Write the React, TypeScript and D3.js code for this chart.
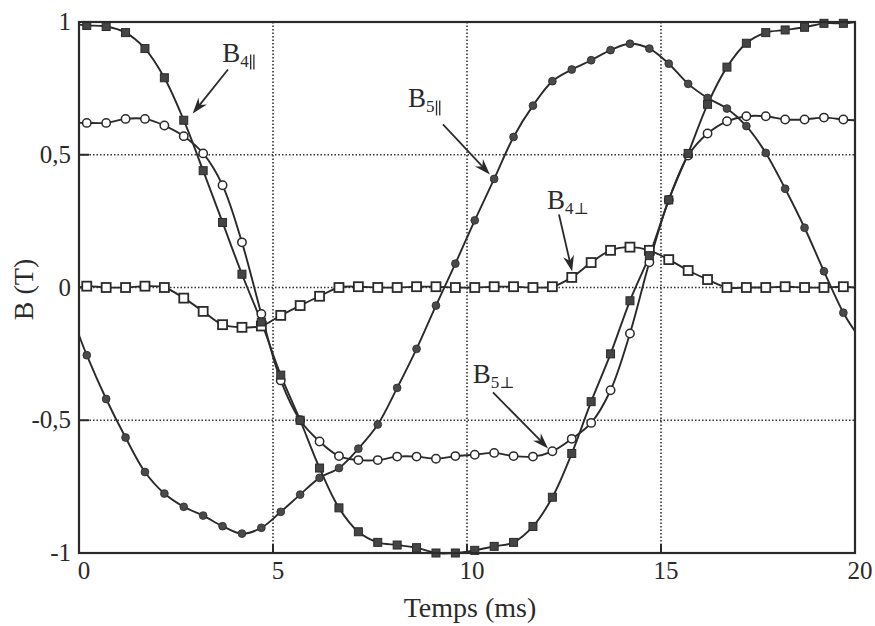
import React from "react";
import * as d3 from "d3";

const W = 875;
const H = 626;

const xTicks = [0, 5, 10, 15, 20];
const yTicks = [-1, -0.5, 0, 0.5, 1];
const yTickLabels = ["-1", "-0,5", "0", "0,5", "1"];

// sample times (ms) of the markers
const times = [
  0.2, 0.7, 1.2, 1.7, 2.2, 2.7, 3.2, 3.7, 4.2, 4.7,
  5.2, 5.7, 6.2, 6.7, 7.2, 7.7, 8.2, 8.7, 9.2, 9.7,
  10.2, 10.7, 11.2, 11.7, 12.2, 12.7, 13.2, 13.7, 14.2, 14.7,
  15.2, 15.7, 16.2, 16.7, 17.2, 17.7, 18.2, 18.7, 19.2, 19.7,
];

// B4|| (filled squares)
const b4par = [
  0.987, 0.983, 0.96, 0.9, 0.79, 0.63, 0.44, 0.245, 0.05, -0.13,
  -0.33, -0.5, -0.68, -0.83, -0.92, -0.96, -0.97, -0.98, -1.0, -1.0,
  -0.99, -0.975, -0.96, -0.9, -0.79, -0.625, -0.43, -0.25, -0.05, 0.12,
  0.33, 0.505, 0.69, 0.83, 0.92, 0.96, 0.97, 0.98, 0.995, 0.995,
];
// B4⊥ (open squares)
const b4perp = [
  0.005, 0, 0, 0.005, 0, -0.04, -0.09, -0.14, -0.15, -0.145,
  -0.105, -0.068, -0.033, 0, 0.003, 0, 0, 0.003, 0.003, 0,
  0, 0.003, 0.003, 0, 0.003, 0.038, 0.094, 0.14, 0.152, 0.14,
  0.105, 0.064, 0.03, 0, 0, 0, 0.003, 0, 0, 0.003,
];
// B5|| (filled circles)
const b5par = [
  -0.255, -0.42, -0.565, -0.695, -0.776, -0.826, -0.859, -0.899, -0.927, -0.905,
  -0.845, -0.78, -0.717, -0.68, -0.607, -0.516, -0.378, -0.231, -0.068, 0.09,
  0.253, 0.409, 0.567, 0.685, 0.777, 0.821, 0.856, 0.894, 0.918, 0.9,
  0.843, 0.767, 0.714, 0.674, 0.608, 0.507, 0.372, 0.225, 0.061, -0.095,
];
// B5⊥ (open circles)
const b5perp = [
  0.62, 0.62, 0.635, 0.635, 0.61, 0.57, 0.505, 0.385, 0.17, -0.1,
  -0.35, -0.5, -0.58, -0.635, -0.65, -0.65, -0.637, -0.637, -0.645, -0.635,
  -0.63, -0.623, -0.635, -0.637, -0.617, -0.57, -0.51, -0.387, -0.173, 0.095,
  0.33, 0.497, 0.58, 0.626, 0.645, 0.645, 0.633, 0.633, 0.64, 0.633,
];

// curve values at the axis ends (t = 0 and t = 20)
const lineStart = { b4par: 0.99, b4perp: 0, b5par: -0.18, b5perp: 0.62 };
const lineEnd = { b4par: 1.0, b4perp: 0, b5par: -0.165, b5perp: 0.63 };

// annotations in data units
const annotations = [
  { main: "B", digit: "4", sym: "∥", tx: 3.69, tv: 0.851, from: [3.84, 0.821], to: [2.93, 0.655] },
  { main: "B", digit: "5", sym: "∥", tx: 8.48, tv: 0.678, from: [9.38, 0.614], to: [10.59, 0.426] },
  { main: "B", digit: "4", sym: "⊥", tx: 12.06, tv: 0.294, from: [12.37, 0.275], to: [12.71, 0.06] },
  { main: "B", digit: "5", sym: "⊥", tx: 10.15, tv: -0.358, from: [10.67, -0.395], to: [12.09, -0.606] },
];

const M = { left: 79, right: 855, top: 22, bottom: 553 };
const FONT = "'Liberation Serif', 'Times New Roman', serif";
const SYM = "'DejaVu Serif', 'Liberation Serif', serif";
const INK = "#2a2a2a";
const MAIN_FS = 27;
const SUB_FS = 17;

export default function App() {
  const x = d3.scaleLinear().domain([0, 20]).range([M.left, M.right]);
  const y = d3.scaleLinear().domain([-1, 1]).range([M.bottom, M.top]);

  const line = d3
    .line<[number, number]>()
    .x((d) => x(d[0]))
    .y((d) => y(d[1]))
    .curve(d3.curveCatmullRom.alpha(0.5));

  const mk = (vals: number[], s: number, e: number): [number, number][] => [
    [0, s],
    ...vals.map((v, i) => [times[i], v] as [number, number]),
    [20, e],
  ];

  const series = [
    { key: "b4perp", vals: b4perp, kind: "openSquare" },
    { key: "b5perp", vals: b5perp, kind: "openCircle" },
    { key: "b5par", vals: b5par, kind: "filledCircle" },
    { key: "b4par", vals: b4par, kind: "filledSquare" },
  ];

  const marker = (kind: string, cx: number, cy: number, k: string) => {
    if (kind === "filledSquare")
      return <rect key={k} x={cx - 4} y={cy - 4} width={8} height={8} fill="#454545" stroke={INK} strokeWidth={1} />;
    if (kind === "openSquare")
      return <rect key={k} x={cx - 4.5} y={cy - 4.5} width={9} height={9} fill="#fff" stroke={INK} strokeWidth={1.8} />;
    if (kind === "filledCircle")
      return <circle key={k} cx={cx} cy={cy} r={3.9} fill="#4a4a4a" stroke={INK} strokeWidth={0.8} />;
    return <circle key={k} cx={cx} cy={cy} r={4.2} fill="#fff" stroke={INK} strokeWidth={1.5} />;
  };

  const arrowHead = (x1: number, y1: number, x2: number, y2: number) => {
    const ang = Math.atan2(y2 - y1, x2 - x1);
    const L = 16;
    const Wd = 5.5;
    const back = 11;
    const ca = Math.cos(ang), sa = Math.sin(ang);
    const p = (a: number, b: number) => [x2 - a * ca + b * -sa, y2 - a * sa + b * ca];
    const pts = [p(0, 0), p(L, Wd), p(back, 0), p(L, -Wd)];
    return "M" + pts.map((q) => q.join(",")).join("L") + "Z";
  };

  return (
    <svg width={W} height={H} style={{ position: "absolute", left: 0, top: 0, background: "#fff" }}>
      {/* grid */}
      {xTicks.slice(1, -1).map((t) => (
        <line key={"gx" + t} x1={x(t)} x2={x(t)} y1={M.top} y2={M.bottom} stroke="#333" strokeWidth={1.6} strokeDasharray="1.5,2" />
      ))}
      {yTicks.slice(1, -1).map((t) => (
        <line key={"gy" + t} x1={M.left} x2={M.right} y1={y(t)} y2={y(t)} stroke="#333" strokeWidth={1.6} strokeDasharray="1.5,2" />
      ))}
      {/* inner ticks */}
      {xTicks.slice(1, -1).map((t) => (
        <line key={"tx" + t} x1={x(t)} x2={x(t)} y1={M.bottom} y2={M.bottom - 9} stroke={INK} strokeWidth={2} />
      ))}
      {yTicks.slice(1, -1).map((t) => (
        <line key={"ty" + t} x1={M.left} x2={M.left + 10} y1={y(t)} y2={y(t)} stroke={INK} strokeWidth={2} />
      ))}
      {/* curves */}
      {series.map((s) => (
        <path
          key={"l" + s.key}
          d={line(mk(s.vals, (lineStart as any)[s.key], (lineEnd as any)[s.key])) || ""}
          fill="none"
          stroke={INK}
          strokeWidth={1.9}
        />
      ))}
      {/* markers */}
      {series.map((s) => (
        <g key={"m" + s.key}>{s.vals.map((v, i) => marker(s.kind, x(times[i]), y(v), s.key + i))}</g>
      ))}
      {/* frame */}
      <rect x={M.left} y={M.top} width={M.right - M.left} height={M.bottom - M.top} fill="none" stroke={INK} strokeWidth={2.2} />
      {/* tick labels */}
      {xTicks.map((t) => (
        <text key={"xl" + t} x={x(t) + 5} y={M.bottom + 26} textAnchor="middle" fontFamily={FONT} fontSize={25} fill={INK}>
          {t}
        </text>
      ))}
      {yTicks.map((t, i) => (
        <text key={"yl" + t} x={M.left - 8} y={y(t) + 8} textAnchor="end" fontFamily={FONT} fontSize={25} fill={INK}>
          {yTickLabels[i]}
        </text>
      ))}
      {/* axis titles */}
      <text x={(M.left + M.right) / 2 + 3} y={617} textAnchor="middle" fontFamily={FONT} fontSize={28} fill={INK}>
        Temps (ms)
      </text>
      <text transform={`translate(33,${(M.top + M.bottom) / 2 + 2}) rotate(-90)`} textAnchor="middle" fontFamily={FONT} fontSize={28} fill={INK}>
        B (T)
      </text>
      {/* annotations */}
      {annotations.map((a, i) => {
        const x1 = x(a.from[0]), y1 = y(a.from[1]), x2 = x(a.to[0]), y2 = y(a.to[1]);
        const ang = Math.atan2(y2 - y1, x2 - x1);
        const tx = x(a.tx);
        const ty = y(a.tv);
        // Liberation Serif advances: "B" 0.667em, digit 0.5em
        const symX = tx + 0.667 * MAIN_FS + 0.5 * SUB_FS + 1;
        return (
          <g key={"an" + i}>
            <text x={tx} y={ty} fontFamily={FONT} fontSize={MAIN_FS} fill={INK}>
              {a.main}
              <tspan fontSize={SUB_FS} dy={5}>
                {a.digit}
              </tspan>
              {a.sym === "⊥" ? (
                <tspan fontSize={16} fontFamily={SYM}>
                  {a.sym}
                </tspan>
              ) : null}
            </text>
            {a.sym === "∥" ? (
              <g stroke={INK} strokeWidth={1.3}>
                <line x1={symX + 1} x2={symX + 1} y1={ty - 7} y2={ty + 8} />
                <line x1={symX + 4.2} x2={symX + 4.2} y1={ty - 7} y2={ty + 8} />
              </g>
            ) : null}
            <line x1={x1} y1={y1} x2={x2 - 9 * Math.cos(ang)} y2={y2 - 9 * Math.sin(ang)} stroke={INK} strokeWidth={1.8} />
            <path d={arrowHead(x1, y1, x2, y2)} fill={INK} />
          </g>
        );
      })}
    </svg>
  );
}
